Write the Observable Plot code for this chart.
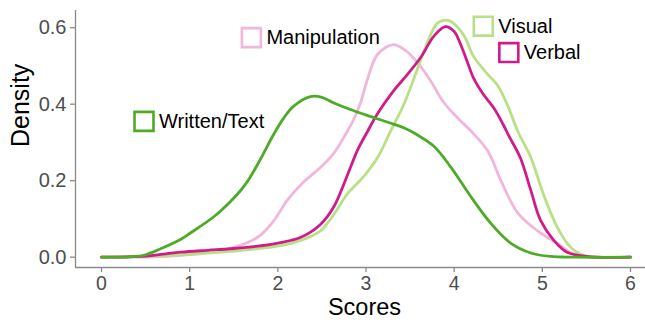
<!DOCTYPE html>
<html><head><meta charset="utf-8">
<script src="https://cdn.jsdelivr.net/npm/d3@7"></script>
<script src="https://cdn.jsdelivr.net/npm/@observablehq/plot@0.6"></script>
<style>
html,body{margin:0;padding:0;background:#fff;}
</style></head><body><div id="chart"></div>
<script>
// Series (drawing order) and colours
const seriesNames = ["Manipulation", "Visual", "Verbal", "Written/Text"];
const seriesColors = ["#F1B6DA", "#B8E186", "#D01C8B", "#4DAC26"];

// Density curves
const manipulationX = [0, 0.6, 0.9, 1.2, 1.46, 1.77, 1.95, 2.11, 2.29, 2.48, 2.63, 2.79, 2.86, 2.94, 3.02, 3.13, 3.31, 3.45, 3.58, 3.73, 3.88, 4.04, 4.19, 4.38, 4.53, 4.72, 4.94, 5.17, 5.32, 5.5, 6];
const manipulationY = [0, 0.001, 0.005, 0.012, 0.023, 0.052, 0.094, 0.15, 0.196, 0.234, 0.27, 0.33, 0.36, 0.405, 0.468, 0.53, 0.556, 0.54, 0.51, 0.462, 0.405, 0.364, 0.33, 0.278, 0.2, 0.116, 0.07, 0.036, 0.012, 0.001, 0];

const visualX = [0, 0.5, 0.9, 1.46, 2.03, 2.26, 2.48, 2.63, 2.79, 2.97, 3.13, 3.28, 3.43, 3.58, 3.7, 3.81, 3.9, 3.96, 4.11, 4.22, 4.38, 4.49, 4.6, 4.72, 4.87, 5.01, 5.17, 5.32, 5.47, 6];
const visualY = [0, 0.002, 0.006, 0.015, 0.03, 0.044, 0.068, 0.11, 0.166, 0.21, 0.26, 0.33, 0.40, 0.49, 0.564, 0.612, 0.62, 0.617, 0.58, 0.525, 0.478, 0.45, 0.40, 0.33, 0.26, 0.166, 0.078, 0.026, 0.005, 0];

const verbalX = [0, 0.5, 0.7, 0.9, 1.2, 1.46, 1.75, 2.03, 2.26, 2.48, 2.63, 2.79, 2.9, 3.02, 3.13, 3.31, 3.47, 3.62, 3.77, 3.9, 4.0, 4.07, 4.15, 4.22, 4.33, 4.45, 4.56, 4.62, 4.75, 4.87, 4.98, 5.13, 5.28, 5.5, 6];
const verbalY = [0, 0.003, 0.008, 0.013, 0.018, 0.022, 0.028, 0.038, 0.052, 0.085, 0.13, 0.215, 0.278, 0.33, 0.375, 0.434, 0.478, 0.522, 0.578, 0.603, 0.59, 0.558, 0.51, 0.468, 0.426, 0.39, 0.345, 0.317, 0.26, 0.174, 0.096, 0.044, 0.013, 0.002, 0];

const writtenX = [0, 0.3, 0.48, 0.67, 0.9, 1.0, 1.27, 1.46, 1.58, 1.67, 1.8, 1.95, 2.07, 2.18, 2.37, 2.5, 2.63, 2.8, 3.02, 3.31, 3.47, 3.58, 3.77, 3.96, 4.19, 4.41, 4.64, 4.87, 5.09, 5.4, 6];
const writtenY = [0, 0.001, 0.005, 0.022, 0.047, 0.062, 0.105, 0.145, 0.175, 0.203, 0.255, 0.32, 0.365, 0.395, 0.42, 0.418, 0.404, 0.388, 0.37, 0.348, 0.334, 0.32, 0.29, 0.236, 0.158, 0.09, 0.037, 0.011, 0.002, 0, 0];

// Axis ticks
const xTicks = [0, 1, 2, 3, 4, 5, 6];
const yTicks = [0, 0.2, 0.4, 0.6];

// In-plot labels (same order as seriesNames), in data units
const labelX = [1.70, 4.33, 4.62, 0.482];
const labelY = [0.574, 0.604, 0.535, 0.355];

const seriesX = [manipulationX, visualX, verbalX, writtenX];
const seriesY = [manipulationY, visualY, verbalY, writtenY];
const rows = [];
seriesNames.forEach((name, s) => {
  seriesX[s].forEach((x, i) => rows.push({series: name, score: x, density: seriesY[s][i]}));
});

const xDomain = [-0.295, 6.17];
const yDomain = [-0.027, 0.645];
const axisGrey = "#8a8a8a";

const chart = Plot.plot({
  width: 645,
  height: 320,
  marginLeft: 75,
  marginRight: 0,
  marginTop: 10,
  marginBottom: 53,
  style: {fontFamily: "'Liberation Sans', Arial, sans-serif", background: "#fff"},
  x: {domain: xDomain},
  y: {domain: yDomain},
  color: {domain: seriesNames, range: seriesColors},
  marks: [
    Plot.ruleX([xDomain[0]], {stroke: axisGrey, strokeWidth: 1.3}),
    Plot.ruleY([yDomain[0]], {stroke: axisGrey, strokeWidth: 1.3}),
    Plot.axisX(xTicks, {tickSize: 5, tickPadding: 4, fontSize: 19.5, fill: "#4d4d4d", stroke: axisGrey, strokeWidth: 1.3, label: null, tickFormat: d3.format("d")}),
    Plot.axisY(yTicks, {tickSize: 5, tickPadding: 4, fontSize: 20, fill: "#4d4d4d", stroke: axisGrey, strokeWidth: 1.3, label: null, tickFormat: d3.format(".1f")}),
    Plot.line(rows, {x: "score", y: "density", z: "series", stroke: "series", strokeWidth: 2.8, curve: "catmull-rom"}),
    Plot.dot(seriesNames, {x: (d, i) => labelX[i], y: (d, i) => labelY[i], symbol: "square", r: 10.7, stroke: d => d, fill: "white", strokeWidth: 2.6}),
    Plot.text(seriesNames, {x: (d, i) => labelX[i], y: (d, i) => labelY[i], text: d => d, dx: 15, textAnchor: "start", fontSize: 20, fill: "black"}),
    Plot.text(["Scores"], {text: d => d, frameAnchor: "bottom", lineAnchor: "top", dx: 4, dy: 31, fontSize: 23.5, fill: "black"}),
    Plot.text(["Density"], {text: d => d, frameAnchor: "left", rotate: -90, dx: -55, dy: 8, fontSize: 25, fill: "black"})
  ]
});
document.getElementById("chart").appendChild(chart);
</script>
</body></html>
